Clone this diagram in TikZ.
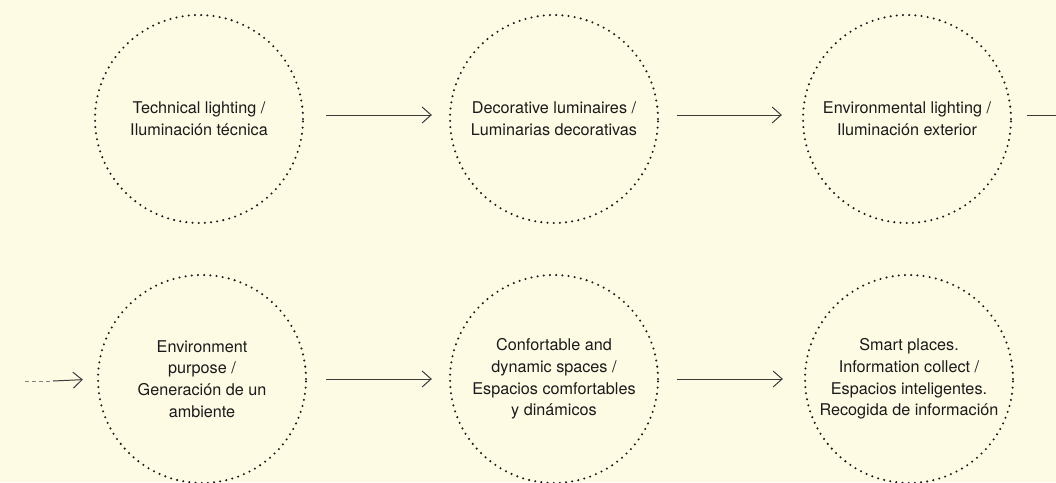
\documentclass[tikz,border=0pt]{standalone}
\usepackage{fontspec}
\setmainfont{TeX Gyre Heros}
\usetikzlibrary{arrows.meta}
\definecolor{bg}{RGB}{254,251,229}
\definecolor{ink}{RGB}{26,26,26}
\definecolor{arrowc}{RGB}{60,60,60}
\definecolor{dashc}{RGB}{130,130,130}
\begin{document}
\begin{tikzpicture}[x=1pt,y=-1pt,
  stage/.style={circle, minimum size=208pt, inner sep=0pt, draw=ink,
    line width=2.3pt, dash pattern=on 0pt off 6.2pt, line cap=round,
    align=center, text=ink, font=\fontsize{16.2}{21.8}\selectfont},
  flow/.style={draw=arrowc, line width=1pt, -{Straight Barb[length=9pt,width=16pt]}}]
\fill[bg] (0,0) rectangle (1056,482);
\useasboundingbox (0,0) rectangle (1056,482);

\node[stage] (c1) at (199,119) {Technical lighting /\\Iluminación técnica};
\node[stage] (c2) at (554,119) {Decorative luminaires /\\Luminarias decorativas};
\node[stage] (c3) at (907,119) {Environmental lighting /\\Iluminación exterior};
\node[stage] (c4) at (202,379) {Environment\\purpose /\\Generación de un\\ambiente};
\node[stage] (c5) at (554,379) {Confortable and\\dynamic spaces /\\Espacios comfortables\\y dinámicos};
\node[stage] (c6) at (909,379) {Smart places.\\Information collect /\\Espacios inteligentes.\\Recogida de información};

\coordinate (outend) at (1056,115);
\coordinate (instart) at (25,381);
\coordinate (inmid) at (53,381);

\draw[flow, shorten <=22pt, shorten >=17pt] ([yshift=4pt]c1.east) -- ([yshift=4pt]c2.west);
\draw[flow, shorten <=18pt, shorten >=20pt] ([yshift=4pt]c2.east) -- ([yshift=4pt]c3.west);
\draw[draw=arrowc, line width=1pt, shorten <=15pt] ([yshift=4pt]c3.east) -- (outend);

\draw[draw=dashc, line width=1pt, dash pattern=on 4pt off 3pt] (instart) -- (inmid);
\draw[flow, shorten >=14pt] (inmid) -- (c4.west);
\draw[flow, shorten <=19pt, shorten >=17pt] (c4.east) -- (c5.west);
\draw[flow, shorten <=18pt, shorten >=21pt] (c5.east) -- (c6.west);
\end{tikzpicture}
\end{document}
